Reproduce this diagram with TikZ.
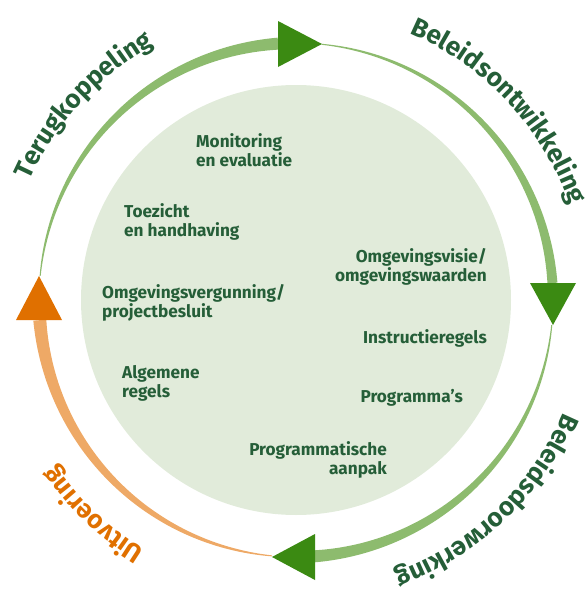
\documentclass[tikz,border=0pt]{standalone}
\usepackage{fontspec}
\setmainfont{Fira Sans}
\usetikzlibrary{positioning, decorations.text}
\definecolor{ringgreen}{HTML}{8DBB6E}
\definecolor{tipgreen}{HTML}{3B8A12}
\definecolor{ringorange}{HTML}{EEA966}
\definecolor{tiporange}{HTML}{E07000}
\definecolor{discfill}{HTML}{E1EBDA}
\definecolor{labelgreen}{HTML}{255E38}
\newcommand\ringfont{\fontsize{26}{26}\selectfont\bfseries}
% tapered band on the ring: colour, from angle, to angle, width at from, width at to
\newcommand\ringband[5]{%
  \fill[#1] plot[domain=#2:#3, samples=90]
    ({cos(\x)*(257+((#4)+((#5)-(#4))*(\x-(#2))/((#3)-(#2)))/2)},
     {sin(\x)*(257+((#4)+((#5)-(#4))*(\x-(#2))/((#3)-(#2)))/2)})
    -- plot[domain=#2:#3, samples=90]
    ({cos((#2)+(#3)-\x)*(257-((#4)+((#5)-(#4))*((#3)-\x)/((#3)-(#2)))/2)},
     {sin((#2)+(#3)-\x)*(257-((#4)+((#5)-(#4))*((#3)-\x)/((#3)-(#2)))/2)})
    -- cycle;}

\begin{document}
\begin{tikzpicture}[x=1pt, y=1pt,
  lbl/.style={font=\fontsize{17.2}{19}\selectfont\bfseries, text=labelgreen,
              inner sep=0pt},
  lt/.style={lbl, align=left, anchor=base west},
  rt/.style={lbl, align=right, anchor=base east}]
\useasboundingbox (0,0) rectangle (584,-589);
\coordinate (ctr) at (296,-300);

\fill[discfill] (ctr) circle[radius=215pt];

% ring
\begin{scope}[shift={(ctr)}]
\ringband{ringgreen}{94}{174.6}{12}{1}
\ringband{ringgreen}{3.8}{84.2}{10}{1}
\ringband{ringgreen}{-85.8}{-5.6}{12}{1}
\ringband{ringorange}{-175.5}{-95.4}{13}{1}
\end{scope}

% arrowheads
\fill[tipgreen] (278,-21) -- (278,-67) -- (322,-44) -- cycle;
\fill[tipgreen] (530,-283) -- (576,-283) -- (553,-325) -- cycle;
\fill[tipgreen] (315,-534) -- (315,-580) -- (272,-557) -- cycle;
\fill[tiporange] (16,-320) -- (62,-320) -- (39,-276) -- cycle;

% phase names
\path[decorate, decoration={text along path, text align=center,
  text color=labelgreen, text={|\ringfont|Terugkoppeling}}]
  (ctr) ++(172:292pt) arc[start angle=172, end angle=103, radius=292pt];
\path[decorate, decoration={text along path, text align=center,
  text color=labelgreen, text={|\ringfont|Beleidsontwikkeling}}]
  (ctr) ++(80:290pt) arc[start angle=80, end angle=6, radius=290pt];
\path[decorate, decoration={text along path, text align=center,
  text color=labelgreen, text={|\ringfont|Beleidsdoorwerking}}]
  (ctr) ++(-8:290pt) arc[start angle=-8, end angle=-85, radius=290pt];
\path[decorate, decoration={text along path, text align=center,
  text color=tiporange, text={|\ringfont|Uitvoering}}]
  (ctr) ++(257:292pt) arc[start angle=257, end angle=196, radius=292pt];

% instruments (anchored on the last line)
\node[lt] (monitor) at (196,-166) {Monitoring\\en evaluatie};
\node[lt] (toezicht) at (124,-236) {Toezicht\\en handhaving};
\node[rt] (visie) at (487,-281) {Omgevingsvisie/\\omgevingswaarden};
\node[lt] (vergunning) at (102,-317) {Omgevingsvergunning/\\projectbesluit};
\node[rt] (instructie) at (487,-343) {Instructieregels};
\node[lt] (algemeen) at (122,-397) {Algemene\\regels};
\node[rt] (programma) at (463,-402) {Programma’s};
\node[rt] (aanpak) at (387,-474) {Programmatische\\aanpak};
\end{tikzpicture}
\end{document}
